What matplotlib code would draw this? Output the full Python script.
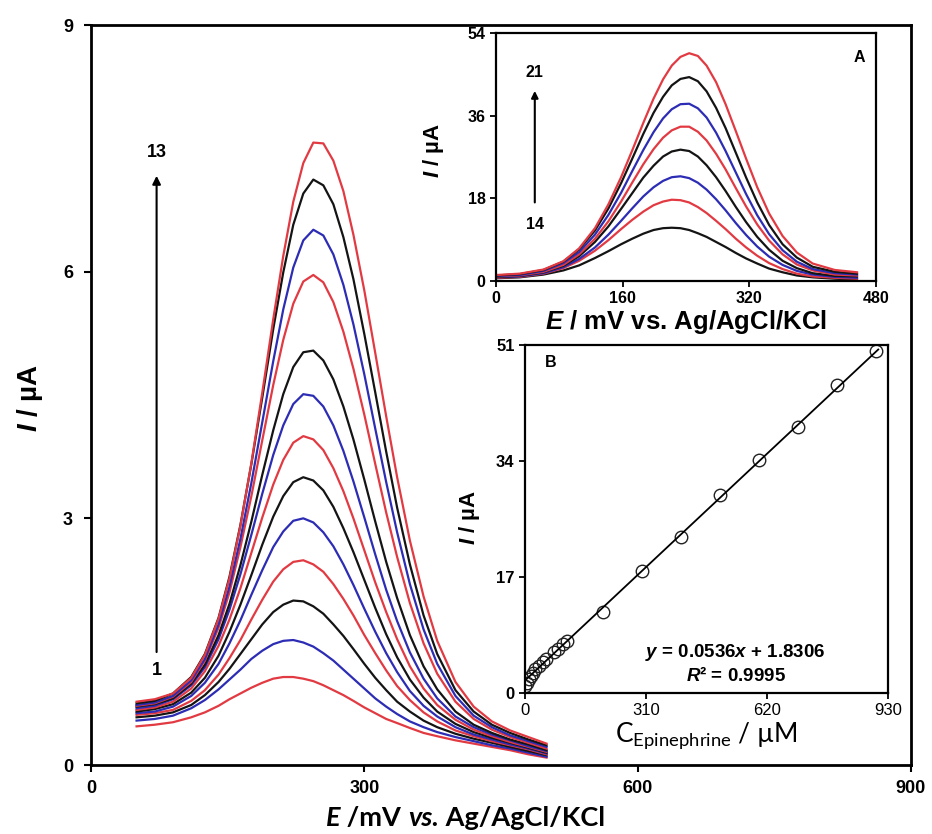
import numpy as np
import matplotlib.pyplot as plt

plt.rcParams['font.family'] = ['Liberation Sans', 'DejaVu Sans']
plt.rcParams['font.weight'] = 'bold'
plt.rcParams['mathtext.fontset'] = 'custom'
plt.rcParams['mathtext.it'] = 'Liberation Sans:italic:bold'
plt.rcParams['mathtext.rm'] = 'Liberation Sans'

# ---- main plot: DPVs 1-13 (potential in mV, current in uA) ----
e_main = [50, 70, 90, 110, 125, 140, 152, 164, 176, 188, 200, 211, 222, 233, 244, 255,
          266, 277, 288, 300, 312, 324, 336, 350, 365, 380, 400, 420, 440, 460, 480, 500]
dpv_1 = [0.47, 0.49, 0.52, 0.58, 0.64, 0.72, 0.80, 0.87, 0.94, 1.00, 1.05, 1.07, 1.07, 1.05, 1.02, 0.97,
         0.91, 0.85, 0.78, 0.70, 0.63, 0.56, 0.51, 0.45, 0.39, 0.35, 0.30, 0.26, 0.22, 0.18, 0.13, 0.09]
dpv_2 = [0.54, 0.56, 0.60, 0.69, 0.79, 0.92, 1.04, 1.16, 1.29, 1.39, 1.47, 1.51, 1.52, 1.49, 1.44, 1.36,
         1.27, 1.16, 1.05, 0.93, 0.81, 0.71, 0.62, 0.53, 0.46, 0.40, 0.34, 0.29, 0.24, 0.20, 0.15, 0.10]
dpv_3 = [0.58, 0.60, 0.64, 0.73, 0.85, 1.01, 1.17, 1.35, 1.53, 1.71, 1.86, 1.95, 2.00, 1.99, 1.93, 1.84,
         1.71, 1.57, 1.41, 1.23, 1.06, 0.91, 0.77, 0.65, 0.54, 0.46, 0.38, 0.32, 0.27, 0.22, 0.17, 0.12]
dpv_4 = [0.61, 0.63, 0.67, 0.78, 0.91, 1.10, 1.30, 1.52, 1.77, 2.01, 2.23, 2.38, 2.47, 2.49, 2.44, 2.35,
         2.20, 2.02, 1.82, 1.58, 1.36, 1.15, 0.96, 0.79, 0.64, 0.53, 0.42, 0.35, 0.29, 0.24, 0.19, 0.13]
dpv_5 = [0.63, 0.65, 0.71, 0.84, 1.00, 1.23, 1.48, 1.76, 2.07, 2.37, 2.65, 2.84, 2.97, 3.00, 2.95, 2.83,
         2.66, 2.44, 2.19, 1.90, 1.62, 1.36, 1.13, 0.90, 0.72, 0.59, 0.46, 0.37, 0.31, 0.25, 0.20, 0.14]
dpv_6 = [0.65, 0.68, 0.74, 0.88, 1.06, 1.33, 1.62, 1.95, 2.31, 2.68, 3.02, 3.27, 3.44, 3.50, 3.46, 3.34,
         3.14, 2.88, 2.59, 2.25, 1.91, 1.59, 1.31, 1.04, 0.82, 0.65, 0.50, 0.40, 0.33, 0.27, 0.21, 0.15]
dpv_7 = [0.67, 0.70, 0.77, 0.93, 1.14, 1.45, 1.77, 2.15, 2.58, 3.01, 3.41, 3.71, 3.92, 4.00, 3.96, 3.83,
         3.61, 3.33, 3.00, 2.61, 2.22, 1.86, 1.53, 1.20, 0.93, 0.73, 0.55, 0.43, 0.35, 0.28, 0.22, 0.16]
dpv_8 = [0.69, 0.72, 0.80, 0.97, 1.19, 1.53, 1.89, 2.32, 2.80, 3.30, 3.77, 4.13, 4.39, 4.51, 4.49, 4.36,
         4.13, 3.82, 3.45, 3.01, 2.56, 2.13, 1.75, 1.37, 1.05, 0.81, 0.59, 0.46, 0.37, 0.30, 0.23, 0.17]
dpv_9 = [0.71, 0.74, 0.81, 0.99, 1.22, 1.58, 1.96, 2.43, 2.96, 3.53, 4.07, 4.51, 4.84, 5.02, 5.04, 4.92,
         4.69, 4.36, 3.96, 3.47, 2.96, 2.47, 2.03, 1.58, 1.20, 0.92, 0.65, 0.49, 0.39, 0.31, 0.25, 0.18]
dpv_10 = [0.72, 0.75, 0.83, 1.01, 1.27, 1.67, 2.10, 2.65, 3.27, 3.95, 4.62, 5.17, 5.61, 5.88, 5.96, 5.87,
          5.63, 5.27, 4.82, 4.26, 3.66, 3.07, 2.53, 1.97, 1.48, 1.11, 0.77, 0.56, 0.43, 0.34, 0.27, 0.20]
dpv_11 = [0.73, 0.76, 0.84, 1.03, 1.29, 1.71, 2.17, 2.75, 3.43, 4.17, 4.91, 5.54, 6.05, 6.38, 6.51, 6.44,
          6.21, 5.84, 5.36, 4.75, 4.09, 3.44, 2.83, 2.20, 1.65, 1.23, 0.84, 0.60, 0.46, 0.36, 0.29, 0.22]
dpv_12 = [0.75, 0.78, 0.87, 1.07, 1.35, 1.79, 2.29, 2.92, 3.66, 4.47, 5.30, 5.99, 6.57, 6.95, 7.12, 7.05,
          6.82, 6.42, 5.91, 5.24, 4.53, 3.81, 3.13, 2.44, 1.82, 1.35, 0.91, 0.65, 0.49, 0.39, 0.31, 0.24]
dpv_13 = [0.77, 0.80, 0.87, 1.06, 1.34, 1.78, 2.27, 2.91, 3.67, 4.53, 5.42, 6.19, 6.85, 7.32, 7.57, 7.56,
          7.35, 6.98, 6.45, 5.77, 5.01, 4.24, 3.50, 2.73, 2.05, 1.51, 1.01, 0.71, 0.53, 0.42, 0.34, 0.26]

# ---- inset A: DPVs 14-21 ----
e_inset = [0, 30, 60, 85, 105, 125, 142, 158, 172, 186, 199, 211, 222, 233,
           244, 255, 266, 278, 290, 303, 316, 330, 345, 362, 380, 400, 428, 456]
dpv_14 = [0.6, 0.8, 1.4, 2.3, 3.4, 5.0, 6.5, 8.0, 9.2, 10.3, 11.1, 11.5, 11.6, 11.5,
          11.1, 10.4, 9.6, 8.5, 7.4, 6.1, 4.9, 3.8, 2.7, 1.9, 1.2, 0.8, 0.5, 0.3]
dpv_15 = [0.7, 0.9, 1.6, 2.8, 4.4, 6.6, 8.9, 11.3, 13.3, 15.1, 16.5, 17.3, 17.7, 17.6,
          17.1, 16.1, 14.8, 13.1, 11.3, 9.2, 7.3, 5.5, 3.9, 2.6, 1.6, 1.0, 0.7, 0.5]
dpv_16 = [0.8, 1.0, 1.7, 3.0, 4.8, 7.3, 10.1, 13.1, 15.8, 18.4, 20.4, 21.8, 22.6, 22.8,
          22.4, 21.4, 19.9, 17.8, 15.4, 12.6, 10.0, 7.5, 5.3, 3.5, 2.2, 1.4, 0.9, 0.7]
dpv_17 = [0.9, 1.1, 1.9, 3.3, 5.4, 8.5, 11.9, 15.7, 19.1, 22.5, 25.1, 27.1, 28.2, 28.6,
          28.3, 27.1, 25.2, 22.6, 19.6, 16.1, 12.8, 9.6, 6.8, 4.4, 2.8, 1.7, 1.1, 1.0]
dpv_18 = [1.0, 1.2, 2.0, 3.5, 5.8, 9.2, 13.0, 17.3, 21.4, 25.4, 28.7, 31.2, 32.8, 33.6,
          33.6, 32.5, 30.6, 27.7, 24.3, 20.2, 16.2, 12.3, 8.8, 5.8, 3.6, 2.3, 1.4, 1.2]
dpv_19 = [1.1, 1.3, 2.2, 3.9, 6.3, 10.1, 14.4, 19.2, 23.9, 28.5, 32.4, 35.4, 37.4, 38.5,
          38.6, 37.6, 35.6, 32.3, 28.3, 23.6, 18.9, 14.3, 10.2, 6.7, 4.2, 2.6, 1.7, 1.4]
dpv_20 = [1.2, 1.5, 2.4, 4.2, 6.9, 11.0, 15.8, 21.3, 26.6, 32.0, 36.6, 40.1, 42.6, 44.0,
          44.4, 43.5, 41.3, 37.7, 33.3, 27.9, 22.5, 17.1, 12.2, 8.0, 5.1, 3.1, 2.0, 1.6]
dpv_21 = [1.3, 1.6, 2.5, 4.3, 7.1, 11.5, 16.7, 22.6, 28.4, 34.4, 39.7, 43.9, 46.9, 48.8,
          49.6, 49.0, 46.9, 43.3, 38.5, 32.6, 26.6, 20.4, 14.7, 9.8, 6.2, 3.8, 2.4, 1.9]

# ---- inset B: calibration ----
conc = [1, 5, 10, 15, 20, 25, 35, 45, 55, 75, 85, 98, 108, 200, 300, 400, 500, 600, 700, 800, 900]
peak = [1.07, 1.52, 2.0, 2.49, 3.0, 3.5, 4.0, 4.52, 5.05, 5.96, 6.51, 7.12, 7.59,
        11.9, 17.9, 22.9, 29.0, 34.1, 39.0, 45.1, 50.1]
slope, intercept = 0.0536, 1.8306

RED, BLUE, BLACK = '#e23a42', '#2c2cb4', '#141414'
main_curves = [dpv_1, dpv_2, dpv_3, dpv_4, dpv_5, dpv_6, dpv_7, dpv_8, dpv_9, dpv_10, dpv_11, dpv_12, dpv_13]
main_colors = [RED, BLUE, BLACK] * 4 + [RED]
inset_curves = [dpv_14, dpv_15, dpv_16, dpv_17, dpv_18, dpv_19, dpv_20, dpv_21]
inset_colors = [BLACK, RED, BLUE, BLACK, RED, BLUE, BLACK, RED]

fig = plt.figure(figsize=(9.32, 8.34), dpi=100)
W, H = 932, 834


def box(l, t, r, b):
    return [l / W, 1 - b / H, (r - l) / W, (b - t) / H]


def ticks(a, xt, yt, size, xbold=True, ybold=True):
    a.set_xticks(xt, [str(v) for v in xt], fontsize=size, fontweight='bold' if xbold else 'normal')
    a.set_yticks(yt, [str(v) for v in yt], fontsize=size, fontweight='bold' if ybold else 'normal')


# main axes
ax = fig.add_axes(box(91, 25, 911, 765))
for y, col in zip(main_curves, main_colors):
    ax.plot(e_main, y, color=col, lw=1.6)
ax.set_xlim(0, 900)
ax.set_ylim(0, 9)
ticks(ax, [0, 300, 600, 900], [0, 3, 6, 9], 13)
for s in ax.spines.values():
    s.set_linewidth(2)
ax.tick_params(width=1.5, length=5)
ax.tick_params(axis='x', pad=6)
ax.tick_params(axis='y', pad=8)
fig.text(30 / W, 1 - 398 / H, '$I$ / µA', rotation=90, fontsize=20, fontweight='bold',
         ha='center', va='center')
ax.annotate('', xy=(72, 7.2), xytext=(72, 1.34),
            arrowprops=dict(arrowstyle='-|>', color='black', lw=1.5, mutation_scale=12))
ax.text(72, 7.45, '13', ha='center', va='center', fontsize=13, fontweight='bold')
ax.text(72, 1.15, '1', ha='center', va='center', fontsize=13, fontweight='bold')

# main x label, Calibri-like, with italic E and vs.
pieces = [('E', 'italic'), (' /mV ', 'normal'), ('vs.', 'italic'), (' Ag/AgCl/KCl', 'normal')]
y0 = 1 - 826 / H
prev = fig.text(326 / W, y0, pieces[0][0], fontsize=19.5, fontweight='bold', style=pieces[0][1],
                family='Lato', va='baseline')
for txt, st in pieces[1:]:
    prev = ax.annotate(txt, xy=(1, y0), xycoords=(prev, 'figure fraction'), fontsize=19.5,
                       fontweight='bold', style=st, family='Lato', va='baseline', ha='left',
                       annotation_clip=False)

# inset A
axa = fig.add_axes(box(496, 33, 876, 281))
for y, col in zip(inset_curves, inset_colors):
    axa.plot(e_inset, y, color=col, lw=1.6)
axa.set_xlim(0, 480)
axa.set_ylim(0, 54)
ticks(axa, [0, 160, 320, 480], [0, 18, 36, 54], 11.5)
for s in axa.spines.values():
    s.set_linewidth(1.6)
axa.tick_params(width=1.3, length=4)
axa.set_xlabel('$E$ / mV vs. Ag/AgCl/KCl', fontsize=18.5, fontweight='bold', labelpad=1)
fig.text(433 / W, 1 - 150 / H, '$I$ / µA', rotation=90, fontsize=16, fontweight='bold',
         ha='center', va='center')
axa.annotate('', xy=(49, 42), xytext=(49, 16.5),
             arrowprops=dict(arrowstyle='-|>', color='black', lw=1.5, mutation_scale=10))
axa.text(49, 45.5, '21', ha='center', va='center', fontsize=11.5, fontweight='bold')
axa.text(49, 12.2, '14', ha='center', va='center', fontsize=11.5, fontweight='bold')
axa.text(0.955, 0.9, 'A', transform=axa.transAxes, ha='center', va='center',
         fontsize=11.5, fontweight='bold')

# inset B
axb = fig.add_axes(box(525, 345, 888, 693))
axb.plot(conc, peak, 'o', mfc='none', mec='#222222', ms=9, mew=1.0)
xl = np.array([0, 905])
axb.plot(xl, slope * xl + intercept, color='black', lw=1.3)
axb.set_xlim(0, 930)
axb.set_ylim(0, 51)
ticks(axb, [0, 310, 620, 930], [0, 17, 34, 51], 12, xbold=False)
for s in axb.spines.values():
    s.set_linewidth(1.6)
axb.tick_params(width=1.3, length=4)
axb.set_xlabel(r'C$_{\mathregular{Epinephrine}}$ / µM', fontsize=19, family='Lato',
               fontweight='normal', labelpad=1)
fig.text(470 / W, 1 - 517 / H, '$I$ / µA', rotation=90, fontsize=16, fontweight='bold',
         ha='center', va='center')
axb.text(0.07, 0.95, 'B', transform=axb.transAxes, ha='center', va='center',
         fontsize=11.5, fontweight='bold')
axb.text(0.58, 0.115, '$y$ = 0.0536$x$ + 1.8306', transform=axb.transAxes, ha='center',
         va='center', fontsize=13.5, fontweight='bold')
axb.text(0.58, 0.05, '$R$² = 0.9995', transform=axb.transAxes, ha='center',
         va='center', fontsize=13.5, fontweight='bold')

fig.savefig('out.png', dpi=100)
